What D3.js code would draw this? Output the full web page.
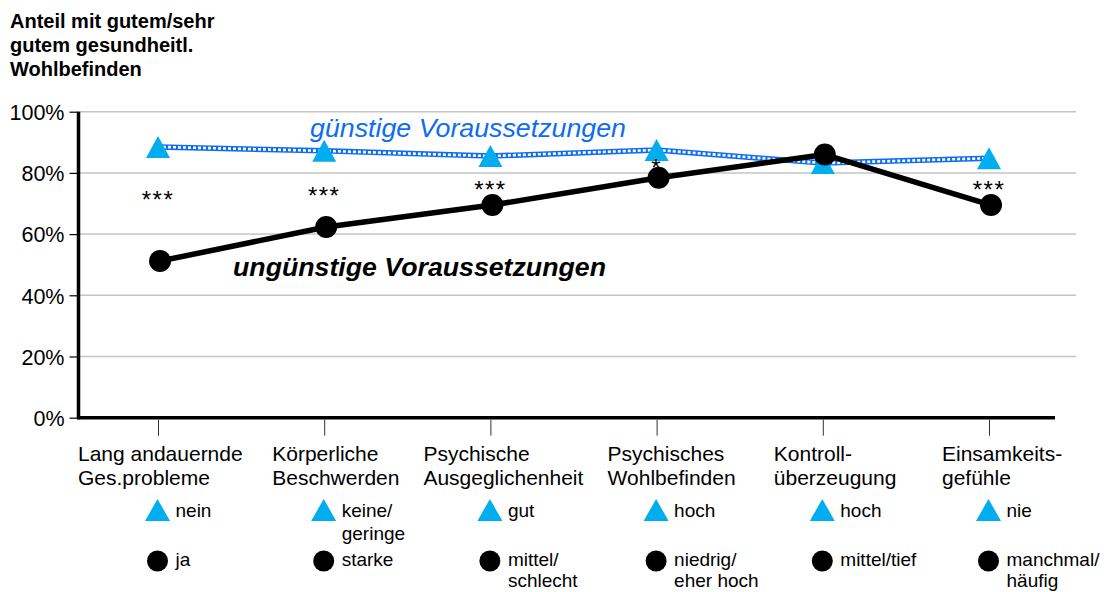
<!DOCTYPE html>
<html>
<head>
<meta charset="utf-8">
<script src="https://cdn.jsdelivr.net/npm/d3@7"></script>
<style>
  html, body { margin: 0; padding: 0; background: #fff; }
  svg { display: block; font-family: "Liberation Sans", Arial, Helvetica, sans-serif; }
</style>
</head>
<body>
<svg id="chart" width="1106" height="592"></svg>
<script>
// ---- data ----
const titleLines = ["Anteil mit gutem/sehr", "gutem gesundheitl.", "Wohlbefinden"];
const categories = [
  ["Lang andauernde", "Ges.probleme"],
  ["Körperliche", "Beschwerden"],
  ["Psychische", "Ausgeglichenheit"],
  ["Psychisches", "Wohlbefinden"],
  ["Kontroll-", "überzeugung"],
  ["Einsamkeits-", "gefühle"]
];
const favorableValues   = [88.5, 87.2, 85.5, 87.5, 83.2, 84.8];
const unfavorableValues = [51.2, 62.3, 69.5, 78.4, 86.0, 69.5];
const significance      = ["***", "***", "***", "*", "", "***"];
const significanceLevel = [72.1, 73.4, 75.4, 82.6, 0, 75.4];
const favorableLabels   = [["nein"], ["keine/", "geringe"], ["gut"], ["hoch"], ["hoch"], ["nie"]];
const unfavorableLabels = [["ja"], ["starke"], ["mittel/", "schlecht"], ["niedrig/", "eher hoch"], ["mittel/tief"], ["manchmal/", "häufig"]];
const yTicks = [0, 20, 40, 60, 80, 100];
const favorableName = "günstige Voraussetzungen";
const unfavorableName = "ungünstige Voraussetzungen";

// ---- layout ----
const svg = d3.select("#chart");
const plotLeft = 78.5, plotRight = 1076, axisRight = 1055;
const y = d3.scaleLinear().domain([0, 100]).range([417.7, 111.7]);
const x = d3.scalePoint().domain(d3.range(categories.length)).range([158, 989]);
const labelShift = [-80, -52, -67, -49, -49, -47];

const blue = "#0d6cf5", cyan = "#00adef";

// title
svg.append("g").selectAll("text").data(titleLines).join("text")
  .attr("x", 10).attr("y", (d, i) => 28 + i * 24)
  .attr("font-size", 20).attr("font-weight", "bold").attr("fill", "#000")
  .text(d => d);

// grid lines
svg.append("g").selectAll("line").data(yTicks.filter(t => t > 0)).join("line")
  .attr("x1", plotLeft).attr("x2", plotRight)
  .attr("y1", d => y(d)).attr("y2", d => y(d))
  .attr("stroke", "#c4c4c4").attr("stroke-width", 1.5);

// y axis
const yAxis = d3.axisLeft(y).tickValues(yTicks).tickFormat(d => d + "%").tickSize(9).tickPadding(5);
const gy = svg.append("g").attr("transform", `translate(${plotLeft},0)`).call(yAxis);
gy.select(".domain").remove();
gy.selectAll(".tick line").attr("stroke", "#000").attr("stroke-width", 1.2);
gy.selectAll(".tick text").attr("font-size", 21.5).attr("font-family", "Liberation Sans, Arial, sans-serif").attr("fill", "#000").attr("dy", "0.36em");
svg.append("line").attr("x1", plotLeft).attr("x2", plotLeft).attr("y1", y(100)).attr("y2", y(0) + 1.5)
  .attr("stroke", "#000").attr("stroke-width", 3.5);

// x axis
svg.append("line").attr("x1", plotLeft - 1.5).attr("x2", axisRight).attr("y1", y(0)).attr("y2", y(0))
  .attr("stroke", "#000").attr("stroke-width", 3.5);
const xAxis = d3.axisBottom(x).tickSize(16).tickFormat("");
const gx = svg.append("g").attr("transform", `translate(0,${y(0) + 2})`).call(xAxis);
gx.select(".domain").remove();
gx.selectAll(".tick line").attr("stroke", "#333").attr("stroke-width", 1);

// category labels
const catG = svg.append("g").selectAll("g").data(categories).join("g")
  .attr("transform", (d, i) => `translate(${x(i) + labelShift[i]},0)`);
catG.selectAll("text").data(d => d).join("text")
  .attr("x", 0).attr("y", (d, j) => 461 + j * 24)
  .attr("font-size", 21).attr("fill", "#000").text(d => d);

// favorable line (blue, dashed with white)
const lineGen = d3.line().x((d, i) => x(i)).y(d => y(d));
svg.append("path").datum(favorableValues).attr("d", lineGen)
  .attr("fill", "none").attr("stroke", blue).attr("stroke-width", 5.5);
svg.append("path").datum(favorableValues).attr("d", lineGen)
  .attr("fill", "none").attr("stroke", "#fff").attr("stroke-width", 2.6).attr("stroke-dasharray", "3,2");

// unfavorable line
const lineGen2 = d3.line().x((d, i) => x(i) + 2).y(d => y(d));
svg.append("path").datum(unfavorableValues).attr("d", lineGen2)
  .attr("fill", "none").attr("stroke", "#000").attr("stroke-width", 5.5).attr("stroke-linejoin", "round");

// triangles
const tri = (cx, cy, w, h) => `M${cx},${cy - h / 2}L${cx + w / 2},${cy + h / 2}L${cx - w / 2},${cy + h / 2}Z`;
svg.append("g").selectAll("path").data(favorableValues).join("path")
  .attr("d", (d, i) => tri(x(i), y(d), 24, 22)).attr("fill", cyan);

// circles
svg.append("g").selectAll("circle").data(unfavorableValues).join("circle")
  .attr("cx", (d, i) => x(i) + 2).attr("cy", d => y(d)).attr("r", 11).attr("fill", "#000");

// significance stars
svg.append("g").selectAll("text").data(significance).join("text")
  .attr("x", (d, i) => x(i)).attr("y", (d, i) => y(significanceLevel[i]) + 11)
  .attr("text-anchor", "middle").attr("font-size", 24).attr("letter-spacing", 1.5).attr("fill", "#000").text(d => d);

// series labels
svg.append("text").attr("x", 310).attr("y", 137).attr("font-size", 25).attr("font-style", "italic")
  .attr("textLength", 316).attr("lengthAdjust", "spacingAndGlyphs")
  .attr("fill", blue).text(favorableName);
svg.append("text").attr("x", 233).attr("y", 276).attr("font-size", 25).attr("font-style", "italic").attr("font-weight", "bold")
  .attr("textLength", 373).attr("lengthAdjust", "spacingAndGlyphs")
  .attr("fill", "#000").text(unfavorableName);

// legend rows
const legFav = svg.append("g").selectAll("g").data(favorableLabels).join("g")
  .attr("transform", (d, i) => `translate(${x(i) - 0.5},0)`);
legFav.append("path").attr("d", tri(0, 510, 25, 22)).attr("fill", cyan);
legFav.selectAll("text").data(d => d).join("text")
  .attr("x", 18).attr("y", (d, j) => 517 + j * 23).attr("font-size", 19).attr("fill", "#000").text(d => d);

const legUnf = svg.append("g").selectAll("g").data(unfavorableLabels).join("g")
  .attr("transform", (d, i) => `translate(${x(i) - 0.5},0)`);
legUnf.append("circle").attr("cx", 0).attr("cy", 561).attr("r", 10.5).attr("fill", "#000");
legUnf.selectAll("text").data(d => d).join("text")
  .attr("x", 18).attr("y", (d, j) => 566 + j * 21).attr("font-size", 19).attr("fill", "#000").text(d => d);
</script>
</body>
</html>
